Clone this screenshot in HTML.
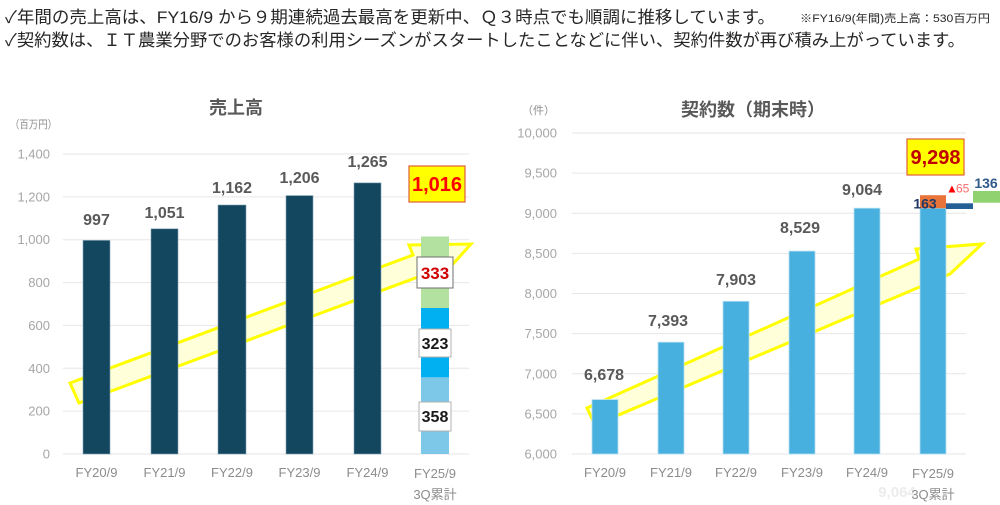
<!DOCTYPE html>
<html><head><meta charset="utf-8">
<style>
html,body{margin:0;padding:0;background:#fff;}
svg{display:block;}
text{font-family:"Liberation Sans","Noto Sans CJK JP",sans-serif;}
</style></head>
<body>
<svg width="1000" height="505" viewBox="0 0 1000 505" xmlns="http://www.w3.org/2000/svg">
<!-- header text -->
<text x="5" y="23" font-size="17" fill="#262626" textLength="770" lengthAdjust="spacingAndGlyphs">✓年間の売上高は、FY16/9 から９期連続過去最高を更新中、Ｑ３時点でも順調に推移しています。</text>
<text x="800" y="22" font-size="11" fill="#262626" textLength="190" lengthAdjust="spacingAndGlyphs">※FY16/9(年間)売上高：530百万円</text>
<text x="5" y="46" font-size="17" fill="#262626" textLength="960" lengthAdjust="spacingAndGlyphs">✓契約数は、ＩＴ農業分野でのお客様の利用シーズンがスタートしたことなどに伴い、契約件数が再び積み上がっています。</text>

<!-- ============ LEFT CHART ============ -->
<text x="236" y="114" font-size="18" font-weight="bold" fill="#595959" text-anchor="middle">売上高</text>
<text x="10" y="128" font-size="11" fill="#8c8c8c" textLength="47" lengthAdjust="spacingAndGlyphs">（百万円）</text>

<g stroke="#e6e6e6" stroke-width="1">
<line x1="63" x2="469" y1="454" y2="454"/>
<line x1="63" x2="469" y1="411.1" y2="411.1"/>
<line x1="63" x2="469" y1="368.3" y2="368.3"/>
<line x1="63" x2="469" y1="325.4" y2="325.4"/>
<line x1="63" x2="469" y1="282.6" y2="282.6"/>
<line x1="63" x2="469" y1="239.7" y2="239.7"/>
<line x1="63" x2="469" y1="196.9" y2="196.9"/>
<line x1="63" x2="469" y1="154" y2="154"/>
</g>
<g font-size="13" fill="#a6a6a6" text-anchor="end">
<text x="50" y="458.5">0</text>
<text x="50" y="415.6">200</text>
<text x="50" y="372.8">400</text>
<text x="50" y="329.9">600</text>
<text x="50" y="287.1">800</text>
<text x="50" y="244.2">1,000</text>
<text x="50" y="201.4">1,200</text>
<text x="50" y="158.5">1,400</text>
</g>

<!-- arrow left -->
<polygon points="70,383 413,255 409,245 471,244 453,264 79,403" fill="#ffffd9" stroke="#ffff00" stroke-width="3" stroke-linejoin="miter"/>

<!-- bars left -->
<g fill="#13475f" stroke="#7f9fb0" stroke-width="0.6">
<rect x="83" y="240.4" width="27" height="213.6"/>
<rect x="151" y="228.8" width="27" height="225.2"/>
<rect x="218" y="205" width="28" height="249"/>
<rect x="286" y="195.6" width="27" height="258.4"/>
<rect x="354" y="182.9" width="27" height="271.1"/>
</g>
<rect x="421" y="377.3" width="28" height="76.7" fill="#7dc7e8"/>
<rect x="421" y="308" width="28" height="69.3" fill="#00b0f0"/>
<rect x="421" y="236.5" width="28" height="71.5" fill="#b3e2a0"/>

<g font-size="16" font-weight="bold" fill="#595959" text-anchor="middle">
<text x="96.5" y="225">997</text>
<text x="164.5" y="218">1,051</text>
<text x="232" y="193">1,162</text>
<text x="299.5" y="183">1,206</text>
<text x="367.5" y="167">1,265</text>
</g>

<rect x="409" y="166" width="56" height="36" fill="#ffff00" stroke="#e0603a" stroke-width="1.2"/>
<text x="437" y="191" font-size="20" font-weight="bold" fill="#ff0000" text-anchor="middle">1,016</text>
<rect x="417" y="257" width="36" height="31" fill="#fff" stroke="#6f6f6f" stroke-width="1"/>
<text x="435" y="279" font-size="17" font-weight="bold" fill="#d00000" text-anchor="middle">333</text>
<rect x="419" y="329" width="32" height="28" fill="#fff" stroke="#b0b0b0" stroke-width="1"/>
<text x="435" y="349" font-size="16" font-weight="bold" fill="#1a1a1a" text-anchor="middle">323</text>
<rect x="419" y="402" width="32" height="29" fill="#fff" stroke="#b0b0b0" stroke-width="1"/>
<text x="435" y="422" font-size="16" font-weight="bold" fill="#1a1a1a" text-anchor="middle">358</text>

<g font-size="13" fill="#8c8c8c" text-anchor="middle">
<text x="96.5" y="477">FY20/9</text>
<text x="164.5" y="477">FY21/9</text>
<text x="232" y="477">FY22/9</text>
<text x="299.5" y="477">FY23/9</text>
<text x="367.5" y="477">FY24/9</text>
<text x="435" y="478">FY25/9</text>
<text x="435" y="499">3Q累計</text>
</g>

<!-- ============ RIGHT CHART ============ -->
<text x="753" y="116" font-size="18" font-weight="bold" fill="#595959" text-anchor="middle">契約数（期末時）</text>
<text x="522" y="114" font-size="11" fill="#8c8c8c">（件）</text>

<g stroke="#e6e6e6" stroke-width="1">
<line x1="572" x2="966" y1="454" y2="454"/>
<line x1="572" x2="966" y1="413.9" y2="413.9"/>
<line x1="572" x2="966" y1="373.75" y2="373.75"/>
<line x1="572" x2="966" y1="333.6" y2="333.6"/>
<line x1="572" x2="966" y1="293.5" y2="293.5"/>
<line x1="572" x2="966" y1="253.4" y2="253.4"/>
<line x1="572" x2="966" y1="213.25" y2="213.25"/>
<line x1="572" x2="966" y1="173.1" y2="173.1"/>
<line x1="572" x2="966" y1="133" y2="133"/>
</g>
<g font-size="13" fill="#a6a6a6" text-anchor="end">
<text x="557" y="458.5">6,000</text>
<text x="557" y="418.4">6,500</text>
<text x="557" y="378.3">7,000</text>
<text x="557" y="338.1">7,500</text>
<text x="557" y="298">8,000</text>
<text x="557" y="257.9">8,500</text>
<text x="557" y="217.8">9,000</text>
<text x="557" y="177.6">9,500</text>
<text x="557" y="137.5">10,000</text>
</g>

<!-- arrow right -->
<polygon points="587,408 919,259 916,249 982,244 950,274 595,425" fill="#ffffd9" stroke="#ffff00" stroke-width="3" stroke-linejoin="miter"/>

<!-- bars right -->
<g fill="#47b0df" stroke="#b5def2" stroke-width="0.8">
<rect x="592" y="399.6" width="26" height="54.4"/>
<rect x="658" y="342.2" width="26" height="111.8"/>
<rect x="723" y="301.3" width="26" height="152.7"/>
<rect x="789" y="251.1" width="26" height="202.9"/>
<rect x="854" y="208.2" width="26" height="245.8"/>
<rect x="920" y="208.2" width="26" height="245.8"/>
</g>
<rect x="920" y="195.2" width="26" height="13" fill="#e8743a"/>
<rect x="946" y="203.3" width="27" height="5.7" fill="#245f96"/>
<rect x="973" y="191" width="27" height="11.7" fill="#90d26f"/>

<g font-size="16" font-weight="bold" fill="#595959" text-anchor="middle">
<text x="604" y="380">6,678</text>
<text x="668" y="326">7,393</text>
<text x="736" y="285">7,903</text>
<text x="800" y="233">8,529</text>
<text x="862" y="195">9,064</text>
</g>

<rect x="907" y="139" width="57" height="36" fill="#ffff00" stroke="#e0603a" stroke-width="1.2"/>
<text x="935.5" y="164" font-size="20" font-weight="bold" fill="#c00000" text-anchor="middle">9,298</text>
<text x="925" y="208.5" font-size="14" font-weight="bold" fill="#1f3864" text-anchor="middle">163</text>
<text x="946" y="192.5" font-size="12" fill="#ff0000">▲</text>
<text x="956" y="192.5" font-size="12" fill="#ff6b6b">65</text>
<text x="986" y="188" font-size="14" font-weight="bold" fill="#2f5a8a" text-anchor="middle">136</text>

<text x="897" y="497" font-size="15" font-weight="bold" fill="#ececec" text-anchor="middle">9,064</text>
<g font-size="13" fill="#8c8c8c" text-anchor="middle">
<text x="605" y="477">FY20/9</text>
<text x="671" y="477">FY21/9</text>
<text x="736" y="477">FY22/9</text>
<text x="802" y="477">FY23/9</text>
<text x="867" y="477">FY24/9</text>
<text x="933" y="478">FY25/9</text>
<text x="933" y="499">3Q累計</text>
</g>
</svg>
</body></html>
